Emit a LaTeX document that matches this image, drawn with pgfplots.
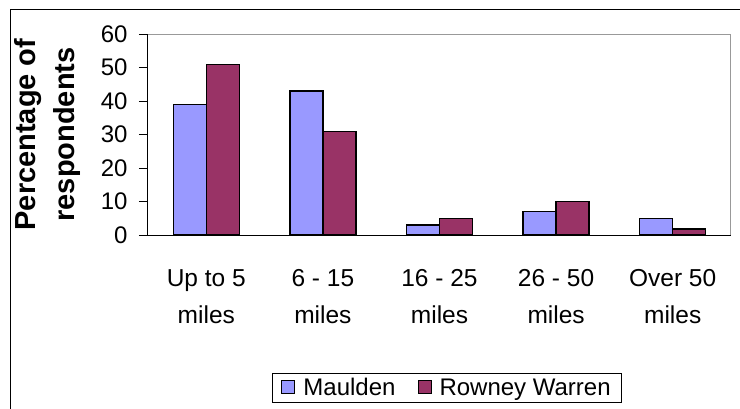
\documentclass[border=0pt]{standalone}
\usepackage{pgfplots}
\pgfplotsset{compat=1.18}
\usepackage{fontspec}
\setmainfont{Liberation Sans}
\definecolor{maul}{HTML}{9999FF}
\definecolor{rown}{HTML}{993366}
\begin{document}
\begin{tikzpicture}
\useasboundingbox (0pt,0pt) rectangle (740pt,-409pt);
\draw[line width=1pt] (10pt,-409pt) -- (10pt,-10pt) -- (740pt,-10pt);
\begin{axis}[
  at={(148pt,-235pt)}, anchor=south west,
  scale only axis, width=583pt, height=201pt,
  xmin=-0.5, xmax=4.5, ymin=0, ymax=60,
  ybar=0pt, bar width=33pt,
  axis x line*=bottom, axis y line*=left,
  axis line style={line width=1pt, -},
  ytick={0,10,...,60},
  xtick={0,...,4},
  xticklabels={{Up to 5\\miles},{6 - 15\\miles},{16 - 25\\miles},{26 - 50\\miles},{Over 50\\miles}},
  xticklabel style={align=center, font=\fontsize{24.5}{37}\selectfont, yshift=-22pt},
  yticklabel style={font=\fontsize{24}{28}\selectfont, xshift=-8pt},
  /pgf/number format/assume math mode=true,
  major x tick style={draw=none},
  extra x ticks={-0.5,0.5,1.5,2.5,3.5,4.5},
  extra x tick labels={},
  extra x tick style={major tick length=9pt, tick align=outside, major tick style={draw=black, line width=1pt}},
  y tick style={line width=1pt, black},
  major tick length=9pt, tick align=outside,
  ylabel={Percentage of\\respondents},
  ylabel style={align=center, font=\bfseries\fontsize{29}{39}\selectfont, at={(axis description cs:-0.172,0.5)}, anchor=center},
  legend columns=2,
  legend style={at={(0.513,-0.761)}, anchor=center, draw=black, line width=0.8pt, font=\fontsize{24}{27}\selectfont, inner xsep=9pt, inner ysep=3pt,
    /tikz/every odd column/.append style={column sep=6pt},
    /tikz/every even column/.append style={column sep=20pt}},
  legend image code/.code={\draw[#1, line width=1pt] (0pt,-6pt) rectangle (13pt,7pt);},
]
\draw[gray!80, line width=1pt] (rel axis cs:0,1) -- (rel axis cs:1,1) -- (rel axis cs:1,0);
\addplot[fill=maul, draw=black, line width=1.3pt] coordinates {(0,39) (1,43) (2,3) (3,7) (4,5)};
\addplot[fill=rown, draw=black, line width=1.3pt] coordinates {(0,51) (1,31) (2,5) (3,10) (4,1.8)};
\legend{Maulden,Rowney Warren}
\end{axis}
\end{tikzpicture}
\end{document}
